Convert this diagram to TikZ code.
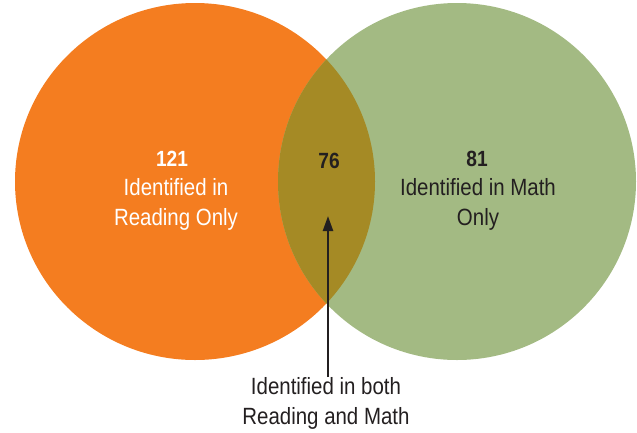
\documentclass[tikz,border=0pt]{standalone}
\usepackage{fontspec}
\setmainfont{Liberation Sans}[FakeStretch=0.87]
\usetikzlibrary{arrows.meta}
\definecolor{readorange}{HTML}{F47D20}
\definecolor{mathgreen}{HTML}{A3BA83}
\definecolor{botholive}{HTML}{A58A25}
\definecolor{inkdark}{HTML}{231F20}
\tikzset{
  lbl/.style={align=center, font=\fontsize{23.5}{30}\selectfont, inner sep=0pt},
  num/.style={font=\fontsize{22}{30}\selectfont\bfseries, inner sep=0pt},
}
\begin{document}
\begin{tikzpicture}[x=1pt,y=-1pt]
\useasboundingbox (0,0) rectangle (637,432);
\fill[readorange] (195,181.5) ellipse [x radius=180, y radius=178.5];
\fill[mathgreen] (457,181.5) ellipse [x radius=179, y radius=178.5];
\begin{scope}
  \clip (195,181.5) ellipse [x radius=180, y radius=178.5];
  \fill[botholive] (457,181.5) ellipse [x radius=179, y radius=178.5];
\end{scope}
\node[num, text=white] (n121) at (172,159) {121};
\node[lbl, text=white] (readonly) at (176,204) {Identified in\\Reading Only};
\node[num, text=inkdark] (n76) at (329,161) {76};
\node[num, text=inkdark] (n81) at (477,159) {81};
\node[lbl, text=inkdark] (mathonly) at (478,204) {Identified in Math\\Only};
\node[lbl, text=inkdark, anchor=north] (both) at (326,377) {Identified in both\\Reading and Math};
\coordinate (tip) at (328,216);
\draw[inkdark, line width=2.4pt, -{Stealth[length=15pt,width=10pt,inset=0pt]}] (both.north -| tip) -- (tip);
\end{tikzpicture}
\end{document}
